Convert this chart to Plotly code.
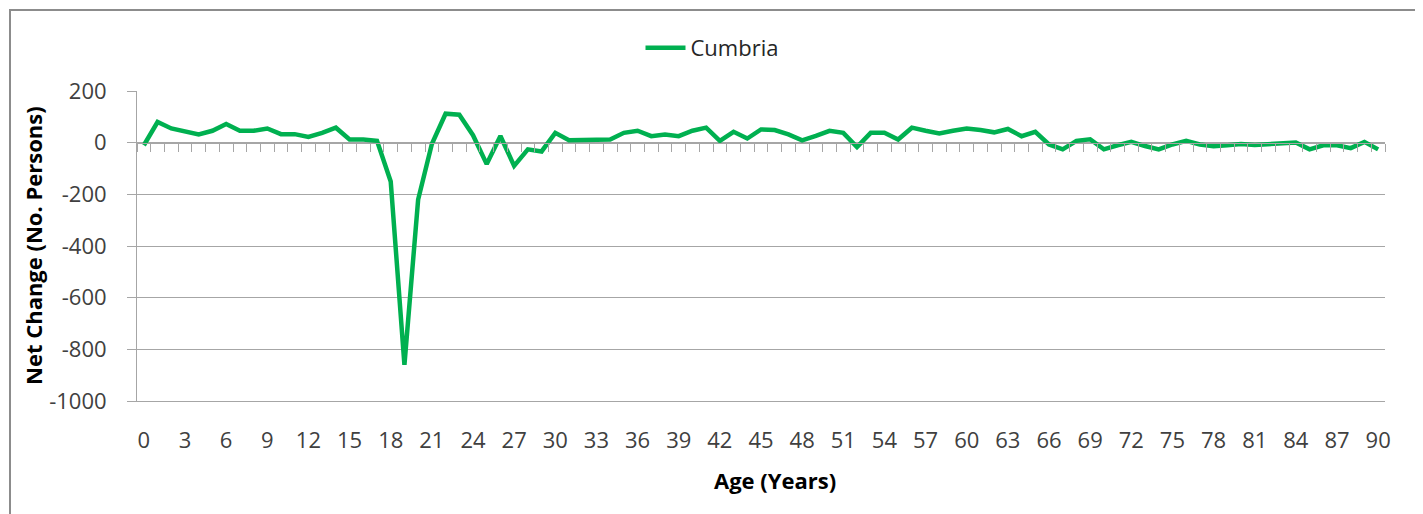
import plotly.graph_objects as go

ages = list(range(91))
net_change = [-10, 80, 55, 42, 32, 46, 72, 46, 46, 55,
              33, 33, 22, 38, 58, 12, 12, 7, -150, -860,
              -220, -5, 112, 108, 29, -83, 26, -90, -26, -34,
              38, 9, 9, 12, 12, 38, 46, 25, 32, 25,
              46, 58, 7, 42, 16, 51, 49, 32, 9, 26,
              46, 38, -17, 38, 38, 12, 58, 46, 36, 46,
              55, 49, 40, 53, 25, 42, -7, -26, 7, 13,
              -26, -10, 3, -13, -26, -7, 7, -7, -14, -10,
              -5, -9, -5, -4, 1, -26, -10, -10, -21, 3, -26]
tick_ages = list(range(0, 91, 3))
tick_labels = [str(a) for a in tick_ages]
y_ticks = [200, 0, -200, -400, -600, -800, -1000]
series_name = "Cumbria"

OFF = 8  # page body margin
W, H = 1423 - OFF, 514 - OFF
L, R, T, B = 137 - OFF, 38, 91 - OFF, 113
PW, PH = W - L - R, H - T - B
def px(x):
    return (x - OFF - L) / PW
def py(y):
    return (H - B - (y - OFF)) / PH

GREEN = "#00B050"
GRID = "#A6A6A6"
FONT = "Open Sans"

fig = go.Figure()
fig.add_trace(go.Scatter(x=ages, y=net_change, mode="lines", name=series_name,
                         line=dict(color=GREEN, width=4.5), xaxis="x", yaxis="y"))
# invisible trace to bind the zero-crossing category axis
fig.add_trace(go.Scatter(x=ages, y=net_change, mode="lines", showlegend=False,
                         hoverinfo="skip", opacity=0, line=dict(width=0),
                         xaxis="x2", yaxis="y"))

ymin, ymax = -1000, 200
zero_pos = (0 - ymin) / (ymax - ymin)

fig.update_layout(
    width=W, height=H,
    margin=dict(l=L, r=R, t=T, b=B),
    paper_bgcolor="white", plot_bgcolor="white",
    font=dict(family=FONT, size=22, color="#404040"),
    showlegend=True,
    legend=dict(orientation="h", x=px(712), y=py(48), xanchor="center", yanchor="middle",
                font=dict(family=FONT, size=22, color="#262626"),
                itemwidth=40, bgcolor="rgba(0,0,0,0)"),
    xaxis=dict(range=[-0.5, 90.5], tickmode="array", tickvals=tick_ages, ticktext=tick_labels,
               showgrid=False, zeroline=False, showline=True, linecolor=GRID, linewidth=1,
               ticks="", ticklabelstandoff=20,
               tickfont=dict(family=FONT, size=22, color="#404040")),
    xaxis2=dict(range=[-0.5, 90.5], overlaying="x", anchor="free", position=zero_pos,
                side="bottom", tickmode="array",
                tickvals=[a - 0.5 for a in ages] + [ages[-1] + 0.5],
                showticklabels=False, ticks="outside", ticklen=8, tickcolor=GRID, tickwidth=1,
                showline=True, linecolor=GRID, linewidth=1, showgrid=False, zeroline=False),
    yaxis=dict(range=[ymin, ymax], tickmode="array", tickvals=y_ticks,
               ticktext=[str(v) for v in y_ticks],
               showgrid=True, gridcolor=GRID, gridwidth=1, zeroline=False,
               showline=True, linecolor=GRID, linewidth=1,
               ticks="outside", ticklen=9, tickcolor=GRID, tickwidth=1,
               ticklabelstandoff=16,
               tickfont=dict(family=FONT, size=22, color="#404040")),
    annotations=[
        dict(text="<b>Age (Years)</b>", x=px(775), y=py(480), xref="paper", yref="paper",
             showarrow=False, xanchor="center", yanchor="middle",
             font=dict(family=FONT, size=22, color="black")),
        dict(text="<b>Net Change (No. Persons)</b>", x=px(33), y=py(246), xref="paper", yref="paper",
             showarrow=False, xanchor="center", yanchor="middle", textangle=-90,
             font=dict(family=FONT, size=22, color="black")),
    ],
    shapes=[
        dict(type="rect", xref="paper", yref="paper",
             x0=px(10), x1=px(1416), y0=py(540), y1=py(10),
             line=dict(color="#8C8C8C", width=2), fillcolor="rgba(0,0,0,0)", layer="below"),
    ],
)

fig.write_html("out.html")
